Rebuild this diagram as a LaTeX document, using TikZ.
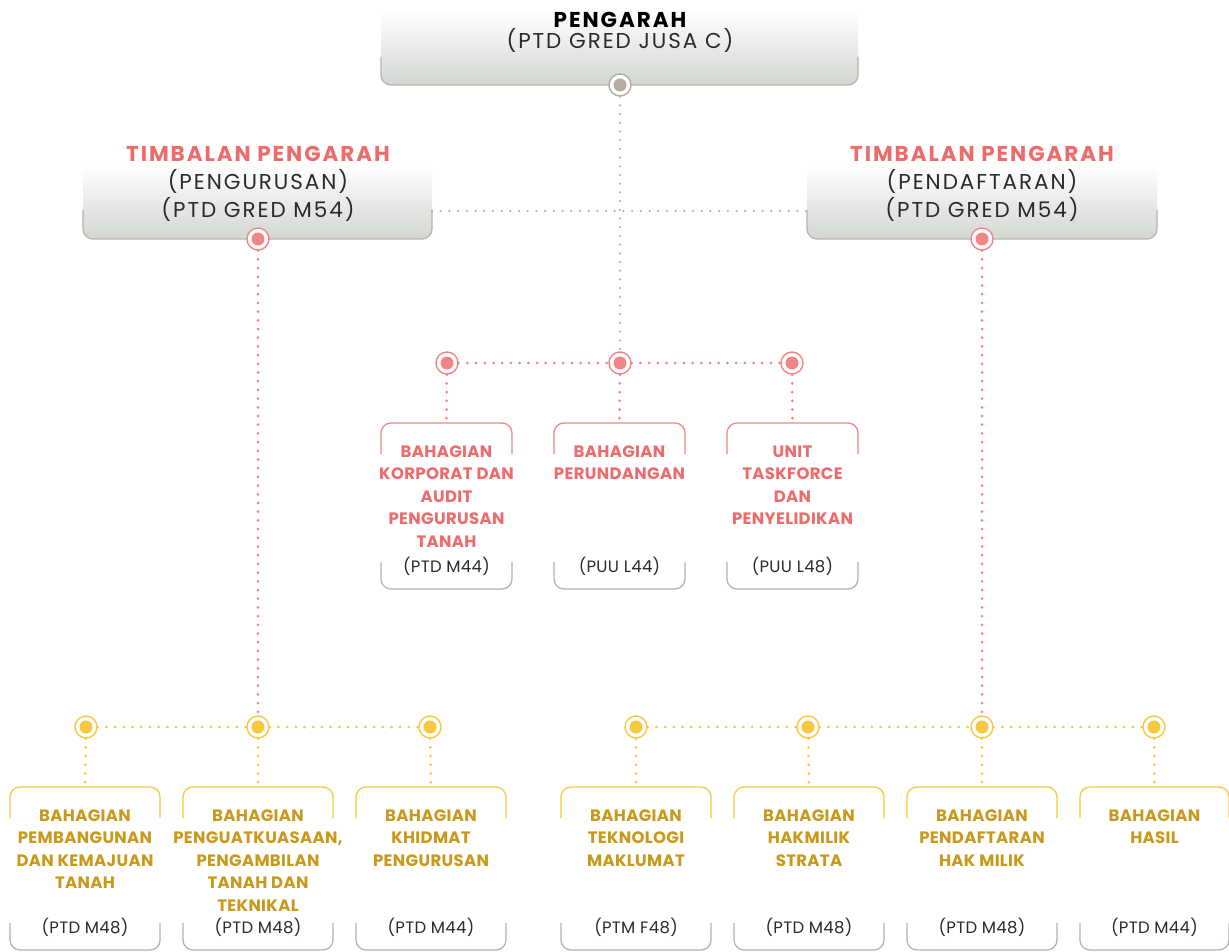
\documentclass[tikz,border=0pt]{standalone}
\usepackage{fontspec}
\setmainfont{Poppins}
\newfontfamily\headfont{Poppins}[LetterSpace=9]
\newfontfamily\boxfont{Poppins}[LetterSpace=2]
\definecolor{salmon}{HTML}{EE6B6B}
\definecolor{salmonline}{HTML}{F28585}
\definecolor{gold}{HTML}{C9991C}
\definecolor{yellowline}{HTML}{F6C93E}
\definecolor{greyline}{HTML}{BBB2AB}
\definecolor{greydot}{HTML}{B5ABA4}
\definecolor{boxgrey}{HTML}{D2D6D1}
\definecolor{txt}{HTML}{2B2B2B}
\tikzset{
  hub/.style={circle, draw=#1, fill=white, line width=1.4pt, minimum size=22pt, inner sep=0pt,
    path picture={\fill[#1] (path picture bounding box.center) circle (6.5pt);}},
  dotline/.style={draw=#1, line width=3pt, line cap=round, dash pattern=on 0pt off 8.7pt},
  frameline/.style={draw=#1, line width=1.3pt, rounded corners=10pt},
  boxtitle/.style={font=\boxfont\fontsize{16.5}{22.5}\selectfont\bfseries, align=center, inner sep=0pt},
  gradetext/.style={font=\boxfont\fontsize{16.5}{20}\selectfont, text=txt, inner sep=0pt},
  headtext/.style={font=\headfont\fontsize{21.5}{28}\selectfont, inner sep=0pt, anchor=base},
  headbold/.style={font=\headfont\fontsize{21.5}{28}\selectfont\bfseries, inner sep=0pt, anchor=base},
}
% name, xl, xr, ytop, ybot, frame colour, text colour, title, grade
\newcommand{\obox}[9]{%
  \draw[frameline=#6] (#2,#4+31) -- (#2,#4) -- (#3,#4) -- (#3,#4+31);
  \draw[frameline=greyline] (#2,#5-27) -- (#2,#5) -- (#3,#5) -- (#3,#5-27);
  \coordinate (#1-t) at ({(#2+#3)/2},#4);
  \node[boxtitle, text=#7, anchor=north] (#1-title) at ({(#2+#3)/2},#4+22.5) {#8};
  \node[gradetext, anchor=base] (#1-grade) at ({(#2+#3)/2},#5-17) {#9};
}
\begin{document}
\begin{tikzpicture}[x=1pt,y=-1pt]
\useasboundingbox[fill=white] (0,0) rectangle (1229,952);

% ---- top box
\shade[top color=white, bottom color=boxgrey, rounded corners=10pt] (381,10) rectangle (858,85);
\draw[frameline=greyline] (381,57) -- (381,85) -- (858,85) -- (858,57);
\node[headbold, text=black] (dir) at (620,28) {PENGARAH};
\node[headtext, text=txt] (dirg) at (620,49) {(PTD GRED JUSA C)};
\node[hub=greydot] (pc) at (620,85) {};

% ---- deputy boxes
\shade[top color=white, bottom color=boxgrey, rounded corners=10pt] (83,165) rectangle (432,239);
\draw[frameline=greyline] (83,210) -- (83,239) -- (432,239) -- (432,210);
\node[headbold, text=salmon] (tl1) at (258,162) {TIMBALAN PENGARAH};
\node[headtext, text=txt] (tl2) at (258,190) {(PENGURUSAN)};
\node[headtext, text=txt] (tl3) at (258,218) {(PTD GRED M54)};
\coordinate (tl-e) at (432,211);
\node[hub=salmonline] (tlc) at (258,239) {};

\shade[top color=white, bottom color=boxgrey, rounded corners=10pt] (807,165) rectangle (1157,239);
\draw[frameline=greyline] (807,210) -- (807,239) -- (1157,239) -- (1157,210);
\node[headbold, text=salmon] (tr1) at (982,162) {TIMBALAN PENGARAH};
\node[headtext, text=txt] (tr2) at (982,190) {(PENDAFTARAN)};
\node[headtext, text=txt] (tr3) at (982,218) {(PTD GRED M54)};
\coordinate (tr-w) at (807,211);
\node[hub=salmonline] (trc) at (982,239) {};

% ---- middle row
\obox{b1}{381}{512}{423}{589}{salmonline}{salmon}{BAHAGIAN\\KORPORAT DAN\\AUDIT\\PENGURUSAN\\TANAH}{(PTD M44)}
\obox{b2}{554}{685}{423}{589}{salmonline}{salmon}{BAHAGIAN\\PERUNDANGAN}{(PUU L44)}
\obox{b3}{727}{858}{423}{589}{salmonline}{salmon}{UNIT\\TASKFORCE\\DAN\\PENYELIDIKAN}{(PUU L48)}
\node[hub=salmonline] (m1) at (447,363) {};
\node[hub=salmonline] (m2) at (620,363) {};
\node[hub=salmonline] (m3) at (792,363) {};

% ---- bottom row
\obox{c1}{10}{160}{787}{950}{yellowline}{gold}{BAHAGIAN\\PEMBANGUNAN\\DAN KEMAJUAN\\TANAH}{(PTD M48)}
\obox{c2}{183}{333}{787}{950}{yellowline}{gold}{BAHAGIAN\\PENGUATKUASAAN,\\PENGAMBILAN\\TANAH DAN\\TEKNIKAL}{(PTD M48)}
\obox{c3}{356}{506}{787}{950}{yellowline}{gold}{BAHAGIAN\\KHIDMAT\\PENGURUSAN}{(PTD M44)}
\obox{c4}{561}{711}{787}{950}{yellowline}{gold}{BAHAGIAN\\TEKNOLOGI\\MAKLUMAT}{(PTM F48)}
\obox{c5}{734}{884}{787}{950}{yellowline}{gold}{BAHAGIAN\\HAKMILIK\\STRATA}{(PTD M48)}
\obox{c6}{907}{1057}{787}{950}{yellowline}{gold}{BAHAGIAN\\PENDAFTARAN\\HAK MILIK}{(PTD M48)}
\obox{c7}{1080}{1229}{787}{950}{yellowline}{gold}{BAHAGIAN\\HASIL}{(PTD M44)}
\node[hub=yellowline] (y1) at (86,727) {};
\node[hub=yellowline] (y2) at (258,727) {};
\node[hub=yellowline] (y3) at (430,727) {};
\node[hub=yellowline] (y4) at (636,727) {};
\node[hub=yellowline] (y5) at (808,727) {};
\node[hub=yellowline] (y6) at (982,727) {};
\node[hub=yellowline] (y7) at (1154,727) {};

% ---- connectors
\draw[dotline=greyline, line width=2.5pt] (pc) -- (m2);
\draw[dotline=greyline, line width=2.5pt] (tl-e) -- (tr-w);
\draw[dotline=salmonline] (m1) -- (m2);
\draw[dotline=salmonline] (m2) -- (m3);
\draw[dotline=salmonline] (m1) -- (b1-t);
\draw[dotline=salmonline] (m2) -- (b2-t);
\draw[dotline=salmonline] (m3) -- (b3-t);
\draw[dotline=salmonline] (tlc) -- (y2);
\draw[dotline=salmonline] (trc) -- (y6);
\draw[dotline=yellowline] (y1) -- (y2);
\draw[dotline=yellowline] (y2) -- (y3);
\draw[dotline=yellowline] (y4) -- (y5);
\draw[dotline=yellowline] (y5) -- (y6);
\draw[dotline=yellowline] (y6) -- (y7);
\foreach \i in {1,...,7}{\draw[dotline=yellowline] (y\i) -- (c\i-t);}
\end{tikzpicture}
\end{document}
